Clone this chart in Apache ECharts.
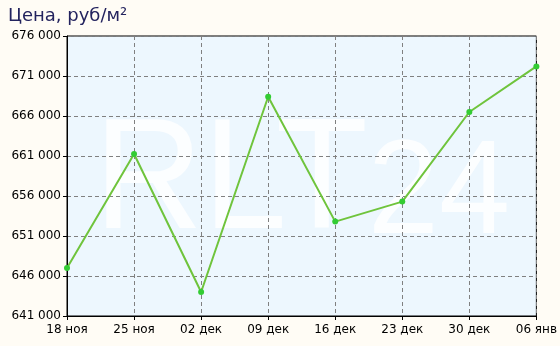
<!DOCTYPE html>
<html><head><meta charset="utf-8">
<script src="https://cdn.jsdelivr.net/npm/echarts@6/dist/echarts.min.js"></script>
<style>html,body{margin:0;padding:0;background:#fffcf5}#c{width:560px;height:346px}</style>
</head><body><div id="c"></div>
<script>
var categories = ['18 ноя','25 ноя','02 дек','09 дек','16 дек','23 дек','30 дек','06 янв'];
var prices = [647000, 661250, 644000, 668400, 652800, 655300, 666500, 672200];
var chart = echarts.init(document.getElementById('c'), null, {renderer:'canvas'});
chart.setOption({
  animation:false,
  backgroundColor:'#fffcf5',
  title:{text:'Цена, руб/м²', left:3, top:2, textStyle:{fontFamily:'DejaVu Sans', fontSize:18, fontWeight:'normal', color:'#23235e'}},
  grid:{left:67, right:23, top:36, bottom:30, show:true, backgroundColor:'#edf7fe', borderColor:'#000', borderWidth:1},
  graphic:[{type:'text', x:94, y:105, z:0, zlevel:0, silent:true, scaleX:0.955,
    style:{text:'{a|RLT}{b|24}', fill:'rgba(255,255,255,0.8)',
      rich:{a:{fontFamily:'Liberation Sans', fontSize:158, fill:'rgba(255,255,255,0.8)', verticalAlign:'bottom'},
            b:{fontFamily:'Liberation Sans', fontSize:134, fill:'rgba(255,255,255,0.8)', verticalAlign:'bottom'}}}}],
  xAxis:{type:'category', data:categories, boundaryGap:false, z:2,
    axisLine:{lineStyle:{color:'#000'}}, axisTick:{show:true, length:4, lineStyle:{color:'#000'}},
    axisLabel:{fontFamily:'DejaVu Sans', fontSize:12, color:'#000', margin:8},
    splitLine:{show:true, lineStyle:{color:'#808080', type:[4,3]}}},
  yAxis:{type:'value', min:641000, max:676000, interval:5000, z:2,
    axisLine:{show:true, lineStyle:{color:'#000'}}, axisTick:{show:true, length:4, lineStyle:{color:'#000'}},
    axisLabel:{fontFamily:'DejaVu Sans', fontSize:12, color:'#000', margin:6,
      formatter:function(v){return String(v).replace(/\B(?=(\d{3})+(?!\d))/g,' ');}},
    splitLine:{show:true, lineStyle:{color:'#808080', type:[4,3]}}},
  series:[{type:'line', data:prices, z:5, symbol:'circle', symbolSize:6,
    lineStyle:{color:'#6fc43c', width:2}, itemStyle:{color:'#33cc33'}}]
});
</script></body></html>
